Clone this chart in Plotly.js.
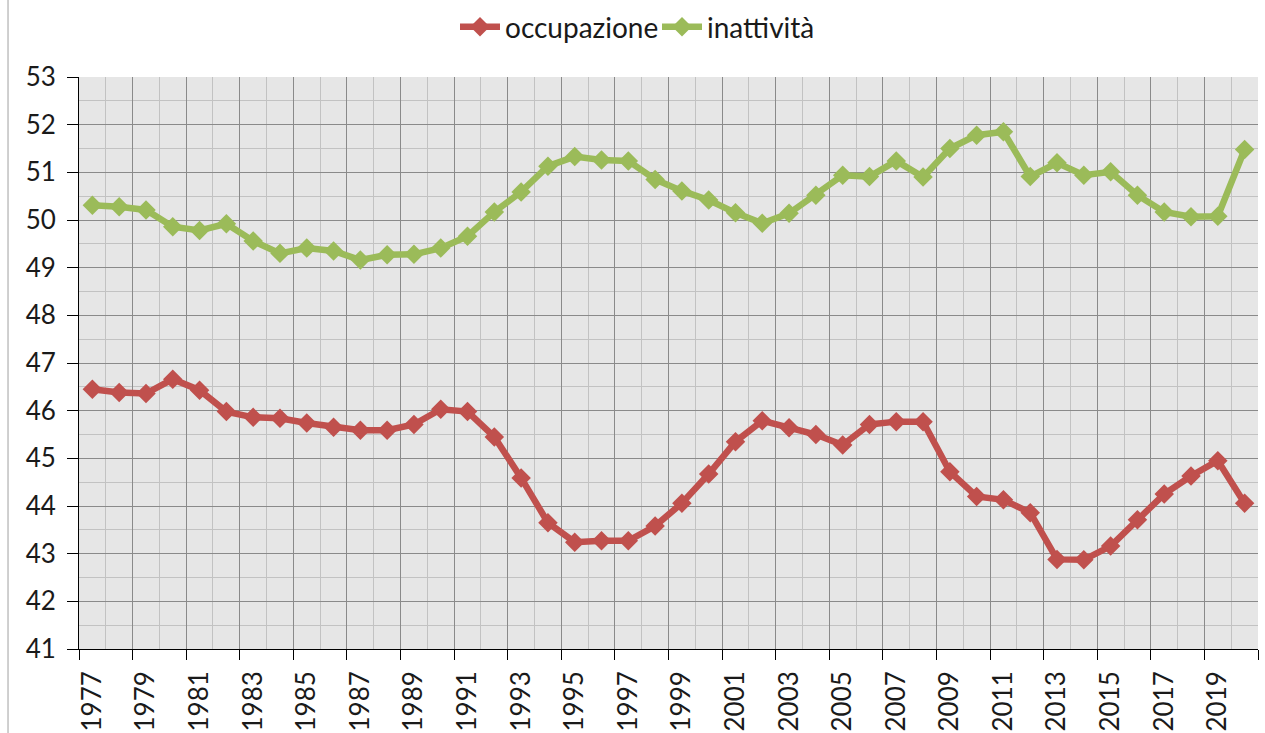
<!DOCTYPE html>
<html>
<head>
<meta charset="utf-8">
<script src="https://cdn.plot.ly/plotly-3.0.1.min.js"></script>
<style>html,body{margin:0;padding:0;background:#fff;}#chart{width:1265px;height:733px;}</style>
</head>
<body>
<div id="chart"></div>
<script>
const years = [1977,1978,1979,1980,1981,1982,1983,1984,1985,1986,1987,1988,1989,1990,1991,1992,1993,1994,1995,1996,1997,1998,1999,2000,2001,2002,2003,2004,2005,2006,2007,2008,2009,2010,2011,2012,2013,2014,2015,2016,2017,2018,2019,2020];
const occupazione = [46.45,46.38,46.36,46.66,46.43,45.98,45.86,45.84,45.74,45.65,45.59,45.59,45.71,46.03,45.98,45.45,44.59,43.65,43.24,43.27,43.27,43.58,44.06,44.67,45.35,45.79,45.64,45.50,45.28,45.71,45.77,45.77,44.72,44.20,44.13,43.86,42.88,42.87,43.16,43.71,44.25,44.63,44.95,44.06];
const inattivita = [50.31,50.28,50.21,49.86,49.78,49.92,49.56,49.30,49.41,49.35,49.16,49.27,49.28,49.41,49.66,50.17,50.59,51.13,51.33,51.26,51.24,50.85,50.61,50.42,50.15,49.93,50.14,50.52,50.94,50.91,51.24,50.90,51.50,51.78,51.85,50.91,51.20,50.94,51.01,50.52,50.17,50.07,50.08,51.48];
const seriesNames = ['occupazione','inattività'];
const tickYears = years.filter((y,i)=>i%2===0);

const FONT = 'Lato, "Open Sans", sans-serif';
const xr = [years[0]-0.5, years[years.length-1]+0.5];

const traces = [
  {x: years, y: occupazione, name: seriesNames[0], type:'scatter', mode:'lines+markers',
   line:{color:'#C0504D', width:6.5}, marker:{symbol:'diamond', size:15, color:'#C0504D'}},
  {x: years, y: inattivita, name: seriesNames[1], type:'scatter', mode:'lines+markers',
   line:{color:'#9BBB59', width:6.5}, marker:{symbol:'diamond', size:15, color:'#9BBB59'}},
  {x: tickYears, y: tickYears.map(()=>null), xaxis:'x2', yaxis:'y', showlegend:false, hoverinfo:'skip', type:'scatter', mode:'lines'}
];

const layout = {
  width:1265, height:733,
  margin:{l:79, r:7, t:77, b:84},
  paper_bgcolor:'#ffffff',
  plot_bgcolor:'#e6e6e6',
  font:{family:FONT, size:26, color:'#1a1a1a'},
  showlegend:true,
  legend:{orientation:'h', xref:'container', yref:'container', x:455/1265, xanchor:'left', y:0.963, yanchor:'middle',
          font:{family:FONT, size:28, color:'#1a1a1a'}, itemwidth:40, entrywidth:147, entrywidthmode:'pixels',
          tracegroupgap:0, bgcolor:'rgba(0,0,0,0)'},
  xaxis:{range:xr, tickmode:'linear', tick0:xr[0], dtick:2,
         ticks:'outside', ticklen:10, tickcolor:'#000', showticklabels:false, showgrid:true,
         gridcolor:'#8a8a8a', gridwidth:1, zeroline:false, showline:true, linecolor:'#000', linewidth:1,
         minor:{tickmode:'linear', tick0:xr[0], dtick:1, showgrid:true, gridcolor:'#c2c2c2', gridwidth:1, ticks:''}, fixedrange:true},
  xaxis2:{overlaying:'x', anchor:'y', side:'bottom', range:xr, tickmode:'array', tickvals:tickYears,
          ticktext:tickYears.map(String), tickangle:-90, ticks:'', showgrid:false, zeroline:false, showline:false,
          ticklabelstandoff:16, tickfont:{family:FONT, size:26, color:'#1a1a1a'}},
  yaxis:{range:[41,53], tickmode:'linear', tick0:41, dtick:1, ticks:'outside', ticklen:11, tickcolor:'#000',
         showline:true, linecolor:'#000', linewidth:1, showgrid:true, gridcolor:'#8a8a8a', gridwidth:1,
         zeroline:false, ticklabelstandoff:6, tickfont:{family:FONT, size:26, color:'#1a1a1a'},
         minor:{tickmode:'linear', tick0:41, dtick:0.5, showgrid:true, gridcolor:'#c2c2c2', gridwidth:1, ticks:''}},
  shapes:[
    {type:'line', xref:'paper', yref:'paper', x0:-0.0602, x1:-0.0602, y0:-0.2, y1:1.2,
     line:{color:'#a0a0a0', width:1}}
  ]
};

Plotly.newPlot('chart', traces, layout, {displayModeBar:false, staticPlot:true});
</script>
</body>
</html>
